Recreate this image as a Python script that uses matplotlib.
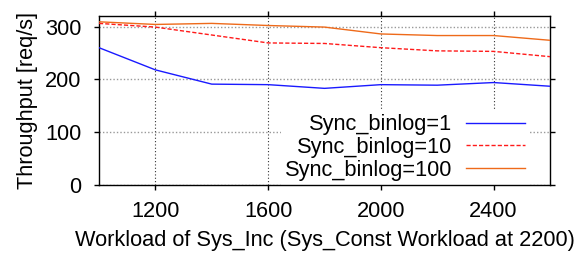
import matplotlib
matplotlib.use("Agg")
import matplotlib.pyplot as plt

workload = [1000, 1200, 1400, 1600, 1800, 2000, 2200, 2400, 2600]
sync1 = [260, 218, 191, 190, 183, 190, 189, 194, 187]
sync10 = [306, 299, 284, 269, 268, 260, 254, 253, 243]
sync100 = [309, 304, 306, 302, 299, 286, 283, 283, 274]
labels = ["Sync_binlog=1", "Sync_binlog=10", "Sync_binlog=100"]
xticks = [1200, 1600, 2000, 2400]
yticks = [0, 100, 200, 300]

FS = 15.7
plt.rcParams['font.family'] = ['Liberation Sans', 'DejaVu Sans']
fig = plt.figure(figsize=(5.81, 2.54), dpi=100)
ax = fig.add_axes([99/581, 1-185/254, (550-99)/581, (185-16)/254])

ax.plot(workload, sync1, color='#1a1aff', lw=1.0, label=labels[0], zorder=3)
ax.plot(workload, sync10, color='#ff1a1a', lw=1.0, ls=(0, (3, 1.5)), label=labels[1], zorder=3)
ax.plot(workload, sync100, color='#ee6a1a', lw=1.0, label=labels[2], zorder=3)

ax.set_xlim(1000, 2600)
ax.set_ylim(0, 320)
ax.set_xticks(xticks)
ax.set_yticks(yticks)
ax.tick_params(direction='out', length=3.5, width=1, labelsize=FS, top=True, right=True,
               labeltop=False, labelright=False)
ax.tick_params(axis='x', pad=8)
ax.tick_params(axis='y', pad=9)
ax.yaxis.grid(True, color='#999999', ls=(0, (1, 1.5)), lw=1.0, zorder=1)
ax.xaxis.grid(True, color='#333333', ls=(0, (1, 2)), lw=0.8, zorder=1)
for s in ax.spines.values():
    s.set_linewidth(1.0)
    s.set_color('black')

ax.set_xlabel("Workload of Sys_Inc (Sys_Const Workload at 2200)", fontsize=FS, labelpad=6)
ax.set_ylabel("Throughput [req/s]", fontsize=FS, labelpad=5)

leg = ax.legend(loc='lower right', bbox_to_anchor=(0.955, 0.0), markerfirst=False,
                frameon=True, fontsize=FS, handlelength=2.7, handletextpad=0.65,
                labelspacing=0.08, borderpad=0.2, borderaxespad=0.0, fancybox=False)
leg.get_frame().set_edgecolor('none')
leg.get_frame().set_facecolor('white')
leg.get_frame().set_alpha(1.0)
leg.set_zorder(2)

fig.savefig("out.png", dpi=100)
